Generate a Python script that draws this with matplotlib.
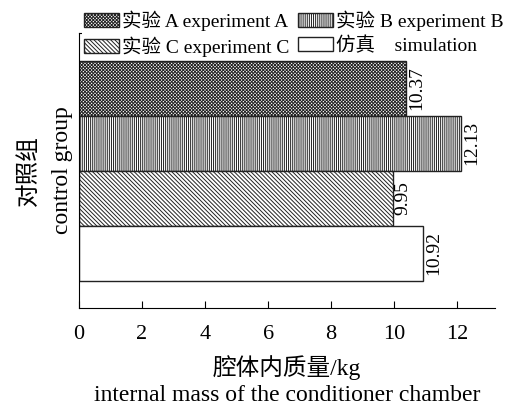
import matplotlib.pyplot as plt
from matplotlib.patches import Patch

plt.rcParams['font.family'] = ['Liberation Serif', 'Noto Sans CJK SC']
plt.rcParams['hatch.linewidth'] = 0.7

# data (top bar first)
labels = ['实验 A experiment A', '实验 B experiment B',
          '实验 C experiment C', '仿真    simulation']
values = [10.37, 12.13, 9.95, 10.92]
hatches = ['x' * 10, '|' * 8, '\\' * 8, '']
xticks = [0, 2, 4, 6, 8, 10, 12]

fig = plt.figure(figsize=(5.19, 4.13), dpi=100)
ax = fig.add_axes([0.152, 0.254, 0.802, 0.666])

ypos = [3, 2, 1, 0]
for y, v, h in zip(ypos, values, hatches):
    ax.barh(y, v, height=1.0, color='white', edgecolor='#222222',
            hatch=h, linewidth=1.0)
    ax.text(v + 0.06, y, f'{v:.2f}', rotation=90, va='center', ha='left',
            fontsize=14)

ax.set_xlim(0, 13.2)
ax.set_ylim(-1.0, 4.0)
ax.set_yticks([])
ax.set_xticks(xticks)
ax.tick_params(axis='x', direction='in', length=5, labelsize=16, pad=12)
ax.spines['right'].set_visible(False)

ax.set_xlabel('腔体内质量/kg\ninternal mass of the conditioner chamber',
              fontsize=17, linespacing=1.3, labelpad=8)
ax.set_ylabel('对照组\ncontrol group', fontsize=17, linespacing=1.75, labelpad=4)

handles = [Patch(facecolor='white', edgecolor='#222222', hatch=h, label=l)
           for l, h in zip(labels, hatches)]
order = [0, 2, 1, 3]
leg = fig.legend([handles[i] for i in order], [labels[i] for i in order],
                 ncol=2, loc='upper left', bbox_to_anchor=(0.158, 0.98),
                 frameon=True, fancybox=False, edgecolor='none',
                 facecolor='white', framealpha=1, fontsize=14,
                 handlelength=1.8, handleheight=0.72, handletextpad=0.15,
                 columnspacing=0.45, labelspacing=0.3, borderpad=0.1,
                 borderaxespad=0)

fig.savefig('out.png', dpi=100)
